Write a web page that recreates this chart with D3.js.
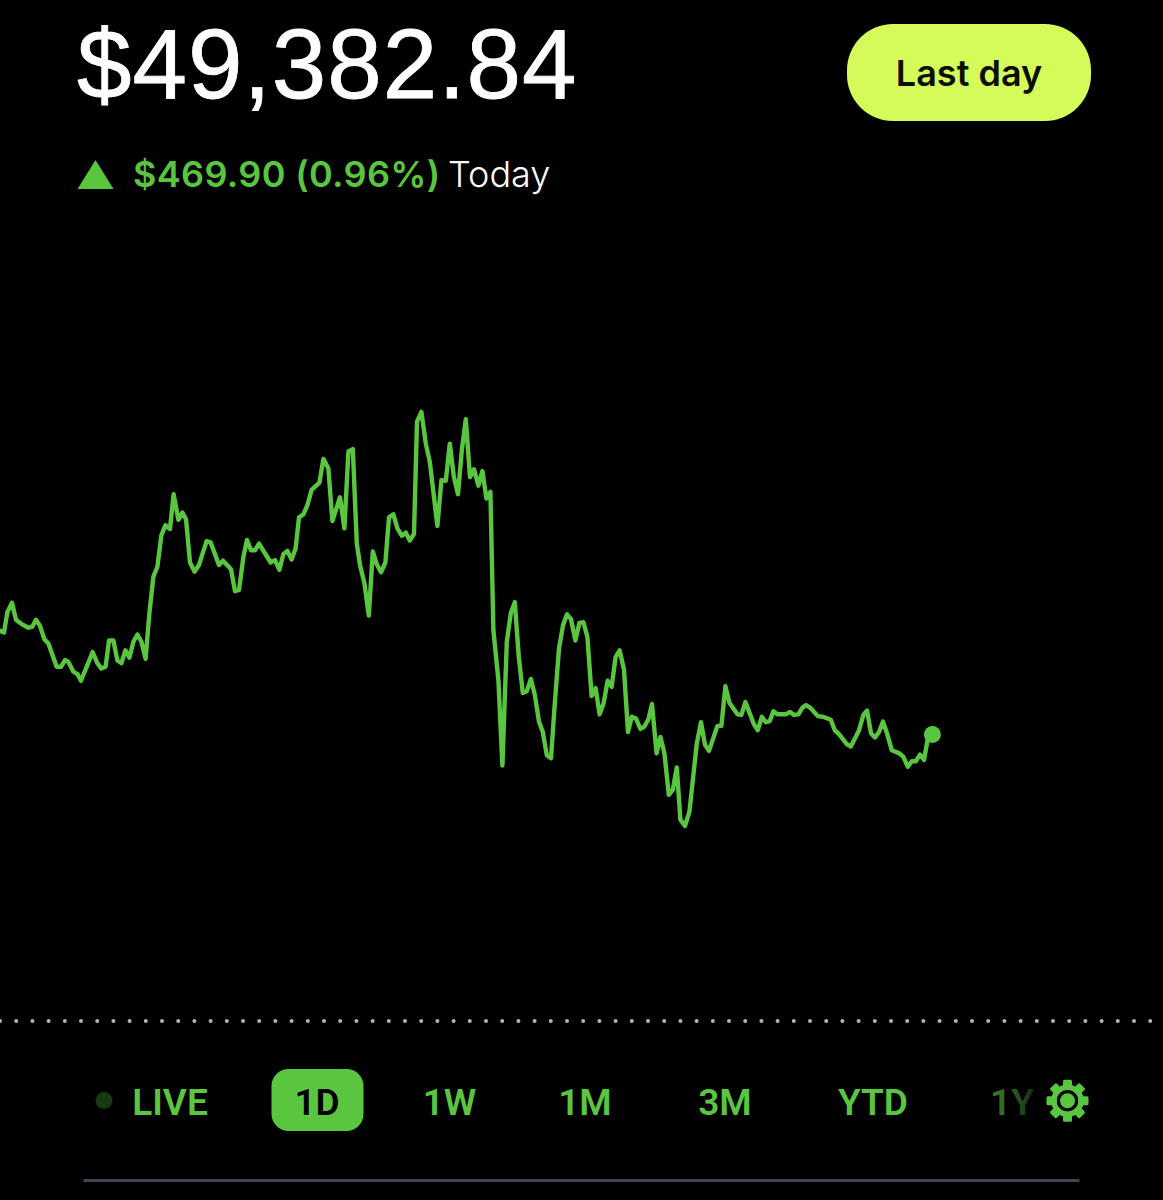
<!DOCTYPE html>
<html>
<head>
<meta charset="utf-8">
<script src="https://cdn.jsdelivr.net/npm/d3@7"></script>
<style>
  html, body { margin: 0; background: #000; }
  svg { display: block; }
</style>
</head>
<body>
<svg id="chart"></svg>
<script>
// minutes since the left edge of the 1D view
var minutes = [
  0, 2, 3.7, 6, 8, 10.8, 14.2, 16.2, 18, 20,
  22.2, 24.2, 28.3, 30.5, 32.5, 34.2, 36.7, 38.7, 40.5, 46.3,
  48.7, 50.7, 52.8, 54.5, 56.7, 58.7, 60.7, 62.7, 64.7, 66.7,
  68.7, 70.7, 72.8, 74.7, 76.7, 78.7, 80.7, 82.7, 85, 86.8,
  89.2, 91.2, 93, 95, 97.3, 99.5, 103.3, 105.3, 109.5, 111.5,
  115.5, 117.5, 119.5, 121.7, 123.5, 125.5, 127.5, 129.5, 135.3, 137.5,
  139.7, 141.7, 143.7, 145.8, 147.8, 149.5, 151.7, 153.7, 155.8, 159.7,
  161.7, 164.2, 166.2, 170, 172.2, 174.2, 176.4, 178.4, 180, 182.2,
  184.4, 186.4, 188.4, 190.5, 192.7, 194.5, 196.7, 198.7, 200.9, 202.9,
  204.9, 207, 208.5, 210.7, 212.9, 214.9, 218.7, 220.7, 222.9, 224.9,
  226.9, 229, 230.9, 232.9, 235, 237, 239.2, 241.2, 243.2, 245.2,
  246.7, 249.2, 251.2, 253.4, 255.4, 257.4, 259.4, 261.4, 263.4, 265.4,
  267.4, 269.5, 271.4, 273.4, 275.5, 277.5, 279.5, 281.5, 283.5, 285.5,
  287.7, 289.7, 291.7, 293.7, 295.8, 297.8, 299.8, 301.8, 303.8, 305.8,
  307.8, 309.8, 312, 314, 315.9, 318, 320.2, 322.2, 324.2, 326,
  328.3, 330.2, 332.2, 334.4, 336.4, 338.4, 340.2, 342.5, 344.7, 348.4,
  350.5, 352.5, 354.5, 358.7, 360.7, 362.7, 364.7, 368.7, 370.7, 372.7,
  376.9, 378.9, 380.9, 382.9, 384.9, 386.7, 388.7, 390.9, 392.9, 395,
  397, 399.2, 401.2, 403, 405, 409, 411.4, 415.4, 417.5, 419.4,
  423.4, 425.4, 429.4, 431.7, 433.5, 435.5, 437.5, 439.5, 441.5, 443.5,
  445.9, 449.7, 451.7, 453.9, 455.9, 457.9, 460, 462, 464.2, 466.2
];

// dollars above the previous close (the dotted line)
var gains = [
  640, 637, 671, 686, 658, 651, 645, 647, 658, 648,
  626, 619, 581, 581, 592, 589, 573, 569, 558, 605,
  587, 578, 581, 624, 624, 591, 587, 608, 596, 622,
  634, 622, 594, 669, 729, 745, 797, 813, 807, 864,
  822, 834, 823, 752, 737, 748, 787, 785, 748, 755,
  741, 705, 707, 761, 789, 772, 772, 783, 752, 756,
  740, 766, 771, 757, 775, 826, 831, 846, 871, 883,
  922, 906, 820, 859, 808, 934, 938, 783, 748, 718,
  665, 770, 749, 736, 752, 826, 831, 808, 796, 801,
  788, 799, 983, 999, 947, 917, 812, 887, 886, 947,
  893, 864, 936, 987, 892, 905, 878, 902, 857, 868,
  641, 559, 419, 622, 669, 687, 597, 538, 541, 561,
  535, 491, 474, 436, 431, 526, 611, 649, 667, 659,
  624, 653, 654, 630, 533, 546, 503, 521, 558, 548,
  597, 608, 576, 474, 499, 496, 479, 483, 495, 520,
  439, 466, 439, 371, 379, 416, 330, 320, 343, 455,
  490, 453, 443, 484, 484, 549, 522, 503, 502, 523,
  487, 477, 499, 490, 492, 508, 503, 503, 503, 507,
  502, 503, 514, 518, 514, 500, 499, 494, 476, 471,
  454, 450, 476, 502, 509, 472, 465, 474, 491, 472,
  444, 439, 433, 417, 426, 426, 437, 428, 469, 469.9
];

var rangeLabels = ["LIVE", "1D", "1W", "1M", "3M", "YTD", "1Y"];
var activeRange = "1D";

var balance = "$49,382.84";
var change = "$469.90 (0.96%)";
var changeSuffix = "Today";
var buttonLabel = "Last day";

var width = 1163, height = 1200;
var green = "#5ac53f";
var labelX = [170, 317, 449.5, 585, 725, 873, 1012];

var svg = d3.select("#chart")
  .attr("width", width)
  .attr("height", height)
  .attr("viewBox", [0, 0, width, height]);

svg.append("rect").attr("width", width).attr("height", height).attr("fill", "#000");

var x = d3.scaleLinear().domain([0, 581.5]).range([0, width]);
var y = d3.scaleLinear().domain([0, 469.9]).range([1021, 734.5]);

var points = d3.zip(minutes, gains);

// header
svg.append("text")
  .attr("x", 77).attr("y", 97.5)
  .attr("font-family", "Liberation Sans").attr("font-size", 98)
  .attr("letter-spacing", 1)
  .attr("fill", "#fff")
  .attr("stroke", "#fff").attr("stroke-width", 0.8)
  .text(balance);

svg.append("path")
  .attr("d", "M77.5,189L95.5,160L113.5,189Z")
  .attr("fill", green);

svg.append("text")
  .attr("x", 133).attr("y", 187)
  .attr("font-family", "Inter").attr("font-weight", 600).attr("font-size", 36)
  .attr("letter-spacing", 0.35)
  .attr("fill", green)
  .text(change);

svg.append("text")
  .attr("x", 448).attr("y", 187)
  .attr("font-family", "Inter").attr("font-weight", 300).attr("font-size", 36)
  .attr("fill", "#fff")
  .text(changeSuffix);

svg.append("rect")
  .attr("x", 847).attr("y", 24)
  .attr("width", 244).attr("height", 97)
  .attr("rx", 46)
  .attr("fill", "#d4fb5a");

svg.append("text")
  .attr("x", 969).attr("y", 86)
  .attr("text-anchor", "middle")
  .attr("font-family", "Inter").attr("font-weight", 600).attr("font-size", 36)
  .attr("fill", "#0a0f00")
  .text(buttonLabel);

// previous close
svg.append("g")
  .selectAll("circle")
  .data(d3.range(0, 72))
  .join("circle")
    .attr("cx", d => d * 16.2)
    .attr("cy", y(0))
    .attr("r", 2)
    .attr("fill", "#b4b4b8");

// price line
var line = d3.line()
  .x(d => x(d[0]))
  .y(d => y(d[1]));

svg.append("path")
  .datum(points)
  .attr("d", line)
  .attr("fill", "none")
  .attr("stroke", green)
  .attr("stroke-width", 4.4)
  .attr("stroke-linejoin", "round")
  .attr("stroke-linecap", "round");

var last = points[points.length - 1];
svg.append("circle")
  .attr("cx", x(last[0]))
  .attr("cy", y(last[1]))
  .attr("r", 8.5)
  .attr("fill", green);

// range selector
var defs = svg.append("defs");
var fade = defs.append("linearGradient")
  .attr("id", "fade")
  .attr("x1", 0).attr("x2", 1).attr("y1", 0).attr("y2", 0);
fade.append("stop").attr("offset", "0%").attr("stop-color", "#3a7d2a");
fade.append("stop").attr("offset", "50%").attr("stop-color", "#2c5f20");
fade.append("stop").attr("offset", "100%").attr("stop-color", "#142c10");

svg.append("circle")
  .attr("cx", 104).attr("cy", 1100.5)
  .attr("r", 8.5)
  .attr("fill", "#153a12");

svg.append("rect")
  .attr("x", 271.5).attr("y", 1069)
  .attr("width", 92).attr("height", 62)
  .attr("rx", 17)
  .attr("fill", green);

svg.append("g")
  .selectAll("text")
  .data(rangeLabels)
  .join("text")
    .attr("x", (d, i) => labelX[i])
    .attr("y", 1114.5)
    .attr("text-anchor", "middle")
    .attr("font-family", "Roboto").attr("font-weight", 600).attr("font-size", 37)
    .attr("fill", d => d == activeRange ? "#000" : d == "1Y" ? "url(#fade)" : green)
    .text(d => d);

// settings gear
var gear = svg.append("g")
  .attr("transform", "translate(1067.5,1100.7)")
  .attr("fill", green);

gear.selectAll("rect")
  .data(d3.range(8))
  .join("rect")
    .attr("x", -4.5).attr("y", -21)
    .attr("width", 9).attr("height", 10)
    .attr("rx", 1.5)
    .attr("transform", d => `rotate(${d * 45})`);

gear.append("circle")
  .attr("r", 13.5)
  .attr("fill", "none")
  .attr("stroke", green)
  .attr("stroke-width", 5.5);

gear.append("circle").attr("r", 7.5);

svg.append("rect")
  .attr("x", 83.5).attr("y", 1179)
  .attr("width", 996).attr("height", 3)
  .attr("fill", "#45434f");
</script>
</body>
</html>
